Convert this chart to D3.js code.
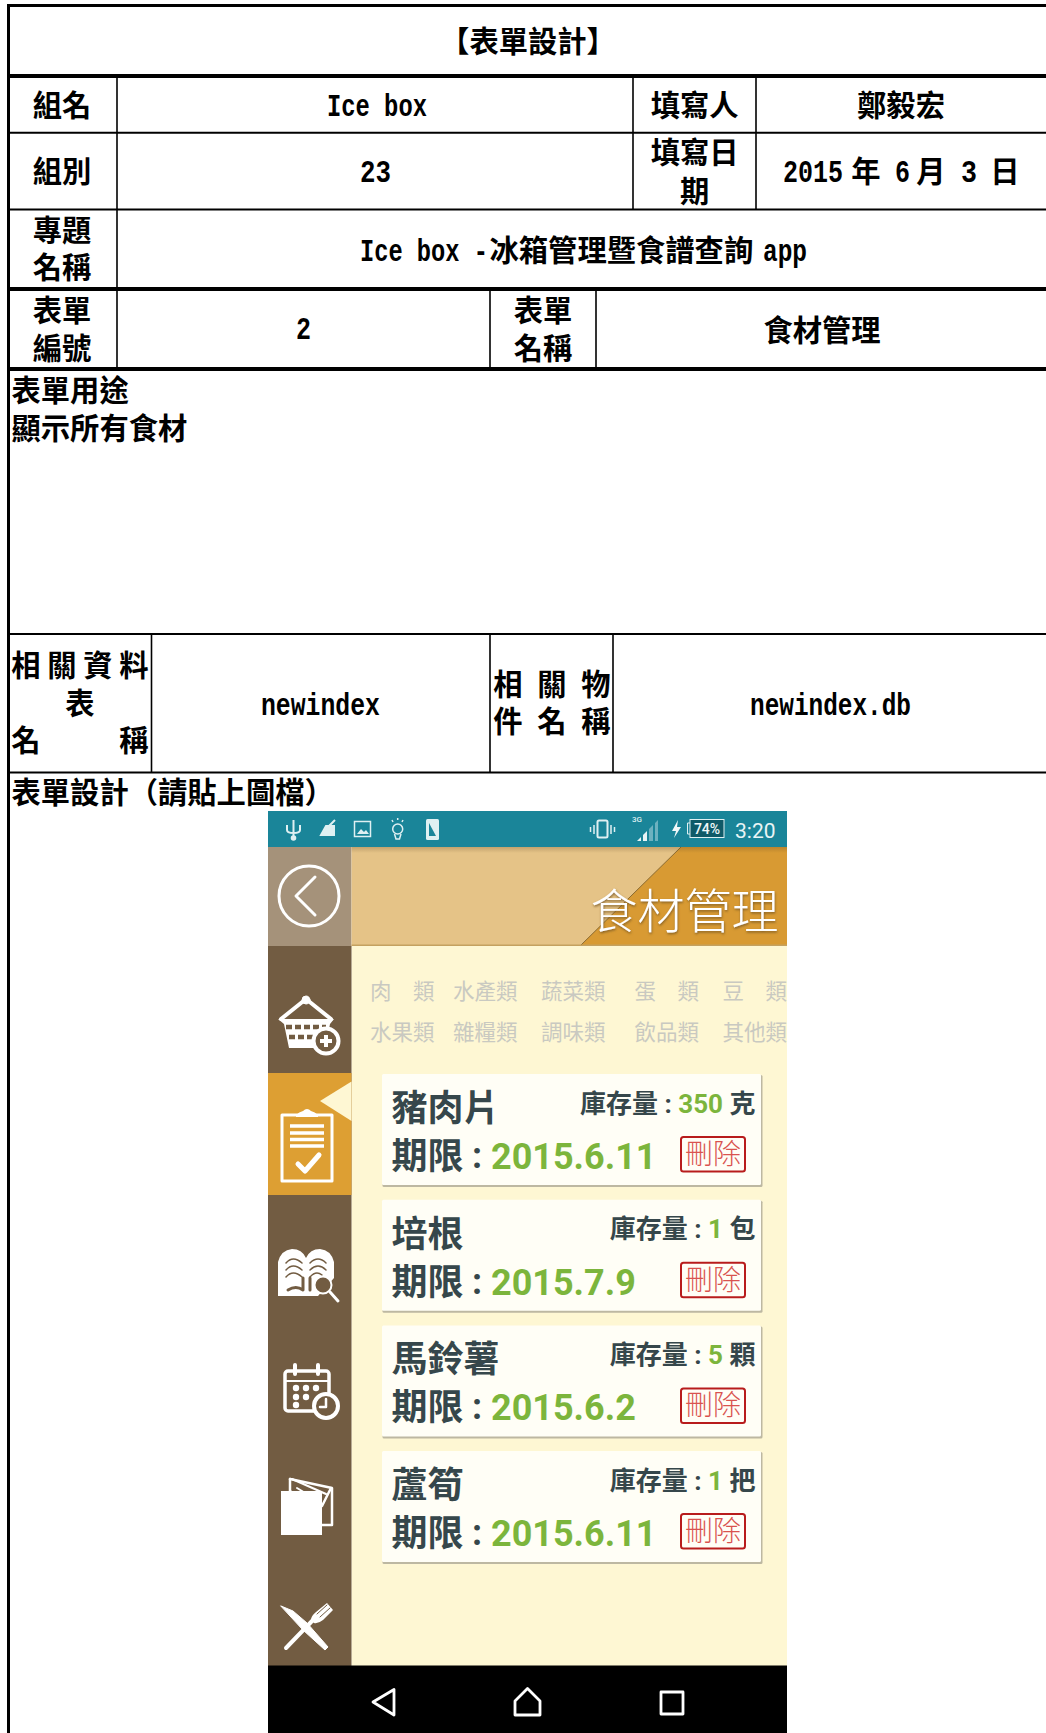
<!DOCTYPE html>
<meta charset="utf-8">
<script src="https://d3js.org/d3.v7.min.js"></script>
<style>
  body { margin: 0; background: #fff; }
  svg { display: block; }
  .cjk { font-family: "Noto Sans CJK TC", sans-serif; font-weight: 700; fill: #000; }
  .latin { font-family: "Liberation Mono", monospace; font-weight: 700; fill: #000; }
  .app { font-family: Roboto, "Noto Sans CJK TC", sans-serif; }
</style>
<body>
<div id="my_dataviz"></div>
<script>
// form text
const formTitle = "表單設計"
const headLabels = ["組名", "填寫人", "組別", "專題", "名稱", "表單", "編號", "表單", "名稱"]
const writer = "鄭毅宏"
const formName = "食材管理"
const purpose = ["表單用途", "顯示所有食材"]
const designLabel = "表單設計（請貼上圖檔）"

// app screen
const categories = [["肉　類", "水產類", "蔬菜類", "蛋　類", "豆　類"], ["水果類", "雜糧類", "調味類", "飲品類", "其他類"]]
const foods = ["豬肉片", "培根", "馬鈴薯", "蘆筍"]
const stock = [350, 1, 5, 1]
const units = ["克", "包", "顆", "把"]
const expiry = ["2015.6.11", "2015.7.9", "2015.6.2", "2015.6.11"]

const width = 1046, height = 1733
const svg = d3.select("#my_dataviz").append("svg").attr("width", width).attr("height", height)

// ---- form grid
const hLines = [[5.5, 3], [76, 4], [132.7, 2], [209.5, 2], [289, 4], [369, 4], [634, 2], [772.5, 2]]
const vLines = [[117, 76, 369], [633, 76, 209], [756, 76, 209], [490, 289, 369], [596, 289, 369],
  [151.5, 634, 772], [490, 634, 772], [613, 634, 772]]

svg.selectAll("line.h").data(hLines).join("line").attr("class", "h")
  .attr("x1", 7).attr("x2", width).attr("y1", d => d[0]).attr("y2", d => d[0])
  .attr("stroke", "#000").attr("stroke-width", d => d[1])
svg.selectAll("line.v").data(vLines).join("line").attr("class", "v")
  .attr("x1", d => d[0]).attr("x2", d => d[0]).attr("y1", d => d[1]).attr("y2", d => d[2])
  .attr("stroke", "#000").attr("stroke-width", 1.6)
svg.append("rect").attr("x", 7).attr("y", 4).attr("width", 3).attr("height", height).attr("fill", "#000")

const form = svg.append("g")
function cjk(x, y, s, anchor) {
  form.append("text").attr("class", "cjk").attr("x", x).attr("y", y + 10.5)
    .attr("font-size", 29.3).attr("text-anchor", anchor || "middle").text(s)
}
// half width latin, squeezed to the width it has in the form
function latin(x0, x1, y, s) {
  const sx = (x1 - x0) / (s.length * 0.6 * 31)
  form.append("text").attr("class", "latin").attr("transform", `translate(${x0},${y + 10}) scale(${sx},1)`)
    .attr("font-size", 31).text(s)
}

cjk(528, 41.7, "【" + formTitle + "】")
const headPos = [[62, 105.7], [694.7, 105.7], [62, 171.7], [62, 230], [62, 267.7], [62, 310], [62, 348], [543, 310], [543, 348]]
headLabels.forEach((s, i) => cjk(headPos[i][0], headPos[i][1], s))
cjk(694.7, 152.7, "填寫日")
cjk(694.7, 191.7, "期")
cjk(901, 105.7, writer)
latin(327, 427, 105.7, "Ice box")
latin(360, 391, 171.7, "23")
// date cell
latin(783, 843, 171.7, "2015"); cjk(866, 171.7, "年")
latin(895, 910, 171.7, "6"); cjk(931, 171.7, "月")
latin(961, 977, 171.7, "3"); cjk(1005, 171.7, "日")
// project name
latin(360, 488, 250.7, "Ice box -")
cjk(489.5, 250.7, "冰箱管理暨食譜查詢", "start")
latin(763, 807, 250.7, "app")
latin(296, 311, 329, "2")
cjk(822, 330, formName)
cjk(11.5, 390, purpose[0], "start")
cjk(11.5, 428, purpose[1], "start")
// justified labels
const spread1 = d3.scalePoint().domain(d3.range(4)).range([26, 134])
"相關資料".split("").forEach((c, i) => cjk(spread1(i), 665, c))
cjk(80, 703, "表")
cjk(26, 740.7, "名"); cjk(134, 740.7, "稱")
const spread2 = d3.scalePoint().domain(d3.range(3)).range([508, 596])
"相關物".split("").forEach((c, i) => cjk(spread2(i), 684, c))
"件名稱".split("").forEach((c, i) => cjk(spread2(i), 721.7, c))
latin(261, 380, 705, "newindex")
latin(750, 911, 705, "newindex.db")
cjk(11.5, 792.3, designLabel, "start")

// ---- phone screenshot
const px = 268, pr = 787, side = 351.5
const app = svg.append("g")
const defs = svg.append("defs")
defs.append("clipPath").attr("id", "phone").append("rect").attr("x", px).attr("y", 811).attr("width", pr - px).attr("height", height - 811)
const hg = defs.append("linearGradient").attr("id", "hshade").attr("x1", 0).attr("x2", 0).attr("y1", 0).attr("y2", 1)
hg.append("stop").attr("offset", 0).attr("stop-color", "#5a4320").attr("stop-opacity", 0.25)
hg.append("stop").attr("offset", 1).attr("stop-color", "#5a4320").attr("stop-opacity", 0)
defs.append("filter").attr("id", "tshadow").append("feDropShadow").attr("dx", 0.5).attr("dy", 1.5).attr("stdDeviation", 0.8).attr("flood-color", "#7a5a20").attr("flood-opacity", 0.9)
app.attr("clip-path", "url(#phone)")

function box(x, y, w, h, fill) { return app.append("rect").attr("x", x).attr("y", y).attr("width", w).attr("height", h).attr("fill", fill) }
box(px, 811, pr - px, 36, "#1a8599")
box(px, 847, side - px, 99, "#a5927a")
box(side, 847, pr - side, 99, "#e5c387")
app.append("polygon").attr("points", `681,847 787,847 787,946 580,946`).attr("fill", "#d89a33")
app.append("line").attr("x1", 681).attr("y1", 847).attr("x2", 580).attr("y2", 946).attr("stroke", "#8a6a30").attr("stroke-width", 1)
box(side, 847, pr - side, 6, "url(#hshade)")
box(side, 944.5, pr - side, 2, "#c4a160")
box(side, 946, pr - side, 720, "#fef7d3")
box(px, 946, side - px, 720, "#725c42")
box(px, 1073, side - px, 122, "#dd9f33")
app.append("polygon").attr("points", `${side},1081.5 320,1101 ${side},1121`).attr("fill", "#fef7d3")
box(px, 1665.5, pr - px, 68, "#000")

// header title
app.append("text").attr("class", "app").attr("x", 590.5).attr("y", 927.5).attr("font-size", 47).attr("font-weight", 300)
  .attr("fill", "#fff").attr("filter", "url(#tshadow)").text(formName)

// category filter
const catStart = [370, 453, 541, 634.5, 722.5]
const catY = d3.scalePoint().domain(d3.range(2)).range([999, 1039.5])
categories.forEach((row, r) => {
  app.selectAll(null).data(row).join("text").attr("class", "app")
    .attr("x", (d, i) => catStart[i]).attr("y", catY(r)).attr("font-size", 21.5).attr("font-weight", 400)
    .attr("fill", "#c9c9c1").text(d => d)
})

// food cards
const cardY = d3.scaleLinear().domain([0, 1]).range([1074, 1199.7])
const card = app.selectAll("g.card").data(foods).join("g").attr("class", "card")
  .attr("transform", (d, i) => `translate(0,${cardY(i)})`)
card.append("rect").attr("x", 382.5).attr("y", 1).attr("width", 380).attr("height", 112).attr("rx", 1.5).attr("fill", "#bdb8a2")
card.append("rect").attr("x", 382).attr("y", 0).attr("width", 379).attr("height", 111).attr("rx", 1.5).attr("fill", "#fffef6")
card.append("text").attr("class", "app").attr("x", 391.5).attr("y", 47).attr("font-size", 36).attr("font-weight", 700)
  .attr("fill", "#36474b").text(d => d)
card.append("text").attr("class", "app").attr("x", 391.5).attr("y", 95).attr("font-size", 36).attr("font-weight", 700)
  .attr("fill", "#36474b").text("期限")
card.append("text").attr("class", "app").attr("x", 472).attr("y", 94).attr("font-size", 36).attr("font-weight", 700)
  .attr("fill", "#36474b").text(":")
card.append("text").attr("class", "app").attr("x", 491).attr("y", 95).attr("font-size", 36).attr("font-weight", 700)
  .attr("fill", "#7cb53c").text((d, i) => expiry[i])
const st = card.append("text").attr("class", "app").attr("x", 755.5).attr("y", 38.5).attr("text-anchor", "end")
  .attr("font-size", 26).attr("font-weight", 700).attr("fill", "#36474b")
st.append("tspan").text("庫存量 : ")
st.append("tspan").attr("fill", "#7cb53c").text((d, i) => stock[i])
st.append("tspan").text((d, i) => " " + units[i])
card.append("rect").attr("x", 681).attr("y", 63).attr("width", 64).attr("height", 34.5).attr("rx", 2.5)
  .attr("fill", "none").attr("stroke", "#b81c1c").attr("stroke-width", 2)
card.append("text").attr("class", "app").attr("x", 713).attr("y", 90).attr("text-anchor", "middle")
  .attr("font-size", 28).attr("font-weight", 300).attr("fill", "#d9534f").text("刪除")

// ---- white line icons
const ico = app.append("g").attr("fill", "none").attr("stroke", "#fff").attr("stroke-linecap", "round").attr("stroke-linejoin", "round")
// back
ico.append("circle").attr("cx", 309).attr("cy", 896).attr("r", 30).attr("stroke-width", 3)
ico.append("path").attr("d", "M315,877 L296,896 L315,915").attr("stroke-width", 3)

// basket
const basket = ico.append("g").attr("transform", "translate(278,995)")
basket.append("path").attr("d", "M3,24 L28,4 L53,24").attr("stroke-width", 4)
basket.append("circle").attr("cx", 28).attr("cy", 5).attr("r", 4).attr("fill", "#fff")
basket.append("path").attr("d", "M0,24 H56 L52,29 L47,53 H11 L6,29 Z").attr("fill", "#fff").attr("stroke", "none")
basket.append("path").attr("d", "M8,32 H48 M11,42 H44").attr("stroke", "#725c42").attr("stroke-width", 4.5).attr("stroke-dasharray", "6 3").attr("stroke-linecap", "butt")
basket.append("circle").attr("cx", 48).attr("cy", 46).attr("r", 12.5).attr("fill", "#725c42").attr("stroke-width", 4)
basket.append("path").attr("d", "M48,40 V52 M42,46 H54").attr("stroke-width", 4).attr("stroke-linecap", "butt")

// clipboard
const clip = ico.append("g").attr("transform", "translate(281,1108)")
clip.append("rect").attr("x", 1).attr("y", 7).attr("width", 50).attr("height", 66).attr("stroke-width", 3)
clip.append("path").attr("d", "M15,7 Q18,4 22,3 Q26,-1 30,3 Q34,4 37,7 V9 H15 Z").attr("fill", "#fff").attr("stroke", "none")
clip.append("path").attr("d", "M9,18 H43 M9,25 H43 M9,31.5 H43 M9,38 H43").attr("stroke-width", 3.5).attr("stroke-linecap", "butt")
clip.append("path").attr("d", "M17,56 L24,63 L38,47").attr("stroke-width", 5)

// book
const book = ico.append("g").attr("transform", "translate(278,1248)")
book.append("path").attr("d", "M0,48 V14 Q3,2 14,1 Q24,1 28,10 Q32,1 42,1 Q53,2 56,14 V30 L40,48 Z").attr("fill", "#fff").attr("stroke", "none")
book.append("path").attr("d", "M8,15 Q15,7 24,15 M8,22 Q15,14 24,22 M8,29 Q15,21 24,29 M32,15 Q40,7 48,15 M32,22 Q40,14 48,22 M32,29 Q38,22 44,27").attr("stroke", "#725c42").attr("stroke-width", 1.5)
book.append("path").attr("d", "M10,42 Q18,37 25,42 V30 M32,30 V42").attr("stroke", "#725c42").attr("stroke-width", 3)
book.append("circle").attr("cx", 45).attr("cy", 37).attr("r", 8.5).attr("fill", "#725c42").attr("stroke-width", 2)
book.append("path").attr("d", "M52,44 L60,53").attr("stroke-width", 3)

// calendar
const cal = ico.append("g").attr("transform", "translate(285,1365)")
cal.append("rect").attr("x", 0).attr("y", 6).attr("width", 44).attr("height", 40).attr("rx", 3).attr("stroke-width", 3.5)
cal.append("path").attr("d", "M10,0 V9 M33,0 V9").attr("stroke-width", 4)
cal.append("path").attr("d", "M1,16 H43").attr("stroke-width", 2)
cal.append("g").attr("fill", "#fff").attr("stroke", "none").selectAll("circle")
  .data([[11, 23], [21, 23], [31, 23], [11, 32], [21, 32], [11, 40]]).join("circle")
  .attr("cx", d => d[0]).attr("cy", d => d[1]).attr("r", 3.2)
cal.append("circle").attr("cx", 41).attr("cy", 41).attr("r", 12).attr("fill", "#725c42").attr("stroke-width", 4)
cal.append("path").attr("d", "M41,34 V42 H35").attr("stroke-width", 2.5)

// package
const pack = ico.append("g").attr("transform", "translate(281,1478)")
pack.append("rect").attr("x", 0).attr("y", 13).attr("width", 41).attr("height", 44).attr("fill", "#fff").attr("stroke", "none")
pack.append("path").attr("d", "M9,1 L51,10 V47 H41").attr("stroke-width", 2.5)
pack.append("path").attr("d", "M9,1 V13 L36,31 L41,28 L50,10").attr("stroke-width", 2.5)
pack.append("path").attr("d", "M16,10 L39,24 M11,1 L45,16").attr("stroke-width", 2)

// knife and fork
const kf = ico.append("g").attr("transform", "translate(281,1603)")
kf.append("path").attr("d", "M0,3 L12,8 L26,20 L47,44 L44,47 L22,27 Z").attr("fill", "#fff").attr("stroke-width", 1)
kf.append("path").attr("d", "M5,45 L32,17").attr("stroke-width", 4)
kf.append("path").attr("d", "M30,17 Q30,13 35,9 L46,0 L52,7 L42,17 Q37,21 33,20 Z").attr("fill", "#fff").attr("stroke", "none")
kf.append("path").attr("d", "M36,11 L46,2 M39,14 L49,5").attr("stroke", "#725c42").attr("stroke-width", 1)

// nav bar
const nav = ico.append("g").attr("stroke-width", 2.8)
nav.append("path").attr("d", "M394,1689.5 V1715 L373,1702 Z")
nav.append("path").attr("d", "M515,1715 V1701 L527.5,1688.5 L540,1701 V1715 Z")
nav.append("rect").attr("x", 661).attr("y", 1692).attr("width", 22).attr("height", 22)

// status bar
const bar = app.append("g").attr("fill", "none").attr("stroke", "#dff0f2").attr("stroke-width", 2)
bar.append("path").attr("d", "M293.5,820 V838 M287,825 V830 Q287,833 293.5,833 Q300,833 300,830 V825")
bar.append("circle").attr("cx", 293.5).attr("cy", 838).attr("r", 1.8).attr("fill", "#dff0f2")
bar.append("path").attr("d", "M321,835 L326,826 H334 V835 Z M329,826 L335,820").attr("fill", "#dff0f2")
bar.append("rect").attr("x", 354.5).attr("y", 821.5).attr("width", 16).attr("height", 15).attr("stroke-width", 1.5)
bar.append("path").attr("d", "M357,834 L361,829 L364,832 L366,830 L369,834 Z").attr("fill", "#dff0f2").attr("stroke", "none")
bar.append("circle").attr("cx", 397.7).attr("cy", 829).attr("r", 5).attr("stroke-width", 1.5)
bar.append("path").attr("d", "M394.5,834 L396,839 H399.5 L401,834 M392,820 L393,822 M397.7,818 V820 M403,820 L402,822").attr("stroke-width", 1.5)
bar.append("rect").attr("x", 426).attr("y", 819).attr("width", 13).attr("height", 21).attr("rx", 1.5).attr("fill", "#dff0f2").attr("stroke", "none")
bar.append("path").attr("d", "M429,823 L436,836 H429 Z").attr("fill", "#1a8599").attr("stroke", "none")
bar.append("rect").attr("x", 597.5).attr("y", 820.5).attr("width", 10).attr("height", 17).attr("rx", 1.5)
bar.append("path").attr("d", "M594,825 V834 M611,825 V834 M590.5,827 V832 M614.5,827 V832").attr("stroke-width", 1.5)
// signal bars: two lit, two dim
bar.append("path").attr("d", "M637,841 L641,837 V841 Z M643,841 V835 L647,831 V841 Z").attr("fill", "#e8f4f6").attr("stroke", "none")
bar.append("path").attr("d", "M649,841 V829 L653,825 V841 Z M655,841 V823 L658,820 V841 Z").attr("fill", "#6db1bf").attr("stroke", "none")
bar.append("path").attr("d", "M678,820 L672,831 H676 L674,838 L681,827 H677 Z").attr("fill", "#f0f8f9").attr("stroke", "none")
bar.append("rect").attr("x", 690).attr("y", 819.5).attr("width", 34).attr("height", 18).attr("fill", "#0f5a68").attr("stroke-width", 1)
bar.append("path").attr("d", "M690,823 H687.5 V834 H690").attr("stroke-width", 1)
app.append("text").attr("class", "app").attr("x", 707).attr("y", 834).attr("text-anchor", "middle").attr("font-size", 14).attr("font-weight", 500).attr("fill", "#f0f8f9").text("74%")
app.append("text").attr("class", "app").attr("x", 637).attr("y", 822).attr("text-anchor", "middle").attr("font-size", 8).attr("font-weight", 500).attr("fill", "#dff0f2").text("3G")
app.append("text").attr("class", "app").attr("x", 735).attr("y", 838).attr("font-size", 21).attr("fill", "#eaf5f6").text("3:20")
</script>
</body>
